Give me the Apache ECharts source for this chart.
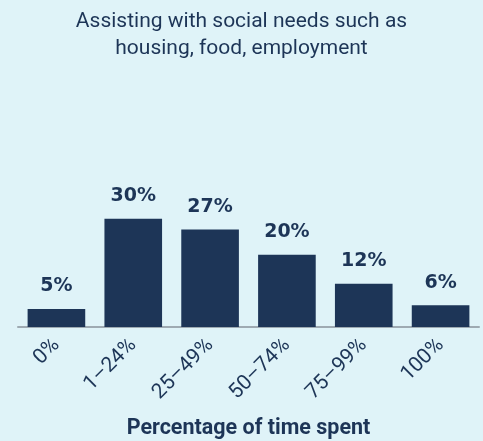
<!DOCTYPE html>
<html>
<head>
<meta charset="utf-8">
<script src="https://cdn.jsdelivr.net/npm/echarts@6/dist/echarts.min.js"></script>
<style>
html,body{margin:0;padding:0;background:#dff3f8;}
#chart{width:483px;height:441px;}
</style>
</head>
<body>
<div id="chart"></div>
<script>
const categories = ['0%', '1–24%', '25–49%', '50–74%', '75–99%', '100%'];
const values = [5, 30, 27, 20, 12, 6];
const titleText = 'Assisting with social needs such as\nhousing, food, employment';
const axisTitle = 'Percentage of time spent';

const navy = '#1d3557';
const chart = echarts.init(document.getElementById('chart'), null, {renderer: 'canvas'});
chart.setOption({
  backgroundColor: '#dff3f8',
  animation: false,
  title: {
    text: titleText,
    left: 'center',
    top: 3,
    textStyle: {
      fontFamily: 'Roboto',
      fontWeight: 'normal',
      fontSize: 21,
      lineHeight: 27,
      color: navy
    }
  },
  grid: {left: 18, right: 4, top: 182.5, bottom: 114},
  xAxis: {
    type: 'category',
    data: categories,
    axisLine: {lineStyle: {color: '#9eaab2', width: 2}},
    axisTick: {show: false},
    axisLabel: {
      rotate: 45,
      margin: 15,
      interval: 0,
      fontFamily: 'Roboto',
      fontSize: 21,
      color: navy
    },
    name: axisTitle,
    nameLocation: 'middle',
    nameGap: 91,
    nameTextStyle: {
      fontFamily: 'Roboto',
      fontWeight: 'bold',
      fontSize: 21.5,
      color: navy
    }
  },
  yAxis: {
    type: 'value',
    min: 0,
    max: 40,
    show: false
  },
  series: [{
    type: 'bar',
    data: values,
    barCategoryGap: '25%',
    itemStyle: {color: navy},
    label: {
      show: true,
      position: 'top',
      distance: 13,
      formatter: '{c}%',
      fontFamily: 'DejaVu Sans',
      fontWeight: 'bold',
      fontSize: 19,
      color: navy
    }
  }]
});
</script>
</body>
</html>
